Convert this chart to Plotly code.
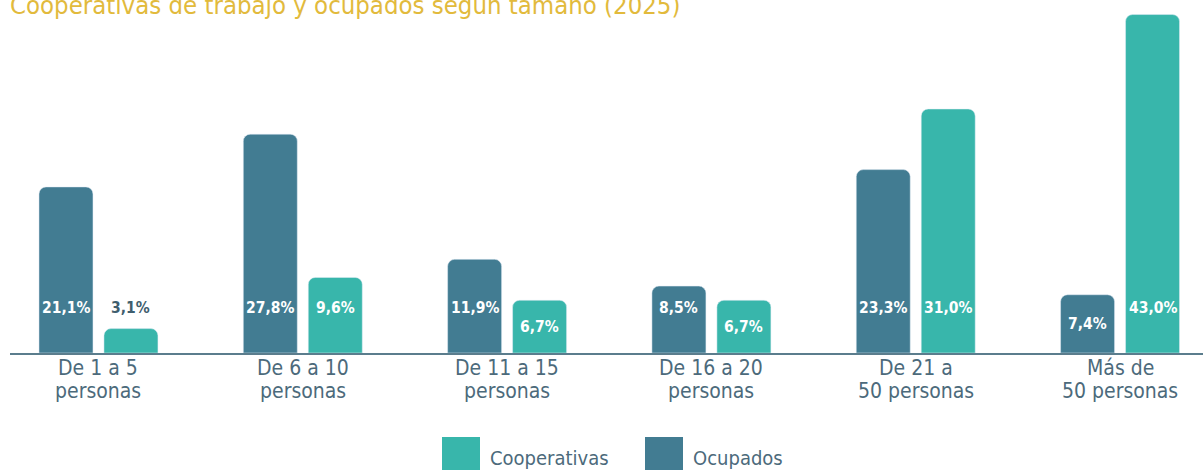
import plotly.graph_objects as go

# Data
categorias = ["De 1 a 5<br>personas", "De 6 a 10<br>personas", "De 11 a 15<br>personas",
              "De 16 a 20<br>personas", "De 21 a<br>50 personas", "Más de<br>50 personas"]
ocupados = [21.1, 27.8, 11.9, 8.5, 23.3, 7.4]
cooperativas = [3.1, 9.6, 6.7, 6.7, 31.0, 43.0]

C_OCUP = "#427C92"
C_COOP = "#38B6AB"
C_TEXT = "#4C6A7B"
C_TITLE = "#E2BA3C"
FONT = "DejaVu Sans Condensed, sans-serif"

fig = go.Figure()
fig.add_trace(go.Bar(x=categorias, y=ocupados, name="Ocupados", marker_color=C_OCUP))
fig.add_trace(go.Bar(x=categorias, y=cooperativas, name="Cooperativas", marker_color=C_COOP))

# value labels: fixed height inside the bar, centred for short bars, above for tiny ones
LABEL_Y = 5.7
annotations = []
for vals, shift in ((ocupados, -32.5), (cooperativas, 32.5)):
    for cat, v in zip(categorias, vals):
        if v < 4:
            y, col = LABEL_Y, "#3F5E6E"
        elif v < 8:
            y, col = v / 2, "white"
        else:
            y, col = LABEL_Y, "white"
        annotations.append(dict(
            x=cat, y=y, xref="x", yref="y", xshift=shift,
            text="<b>" + f"{v:.1f}".replace(".", ",") + "%</b>",
            showarrow=False, font=dict(size=15.5, color=col, family=FONT)))

# category labels, two tight lines under the axis
for cat in categorias:
    for line, dy in zip(cat.split("<br>"), (-15, -38)):
        annotations.append(dict(
            x=cat, y=0, xref="x", yref="paper", yshift=dy, yanchor="middle",
            text=line, showarrow=False, font=dict(size=21, color=C_TEXT, family=FONT)))

# title (partly cut at the top, as in the original)
annotations.append(dict(
    text="Cooperativas de trabajo y ocupados según tamaño (2025)",
    x=-0.002, y=0.985, xref="paper", yref="paper", xanchor="left", yanchor="middle",
    showarrow=False, font=dict(size=25.5, color=C_TITLE, family=FONT)))

# custom legend
shapes = []
for name, col, px in (("Cooperativas", C_COOP, 442), ("Ocupados", C_OCUP, 645)):
    x0 = (px - 10) / 1193
    shapes.append(dict(type="rect", xref="paper", yref="paper",
                       x0=x0, x1=x0 + 38 / 1193, y0=-0.35, y1=(353 - 437) / 353,
                       fillcolor=col, line_width=0))
    annotations.append(dict(text=name, x=(px + 46 - 10) / 1193, y=(353 - 458) / 353,
                            xref="paper", yref="paper", xanchor="left", yanchor="middle",
                            showarrow=False, font=dict(size=20, color=C_TEXT, family=FONT)))

fig.update_layout(
    barmode="group",
    bargap=0.364,
    bargroupgap=0.169,
    barcornerradius=7,
    width=1203, height=470,
    margin=dict(l=10, r=0, t=0, b=117),
    paper_bgcolor="white", plot_bgcolor="white",
    showlegend=False,
    annotations=annotations,
    shapes=shapes,
    xaxis=dict(range=[-0.433, 5.406], showgrid=False, zeroline=False,
               showline=True, linecolor="#5B7D8D", linewidth=2, ticks="",
               showticklabels=False),
    yaxis=dict(range=[0, 44.85], visible=False),
)

fig.write_html("out.html", config={"displayModeBar": False},
               post_script="document.body.style.margin='0';")
